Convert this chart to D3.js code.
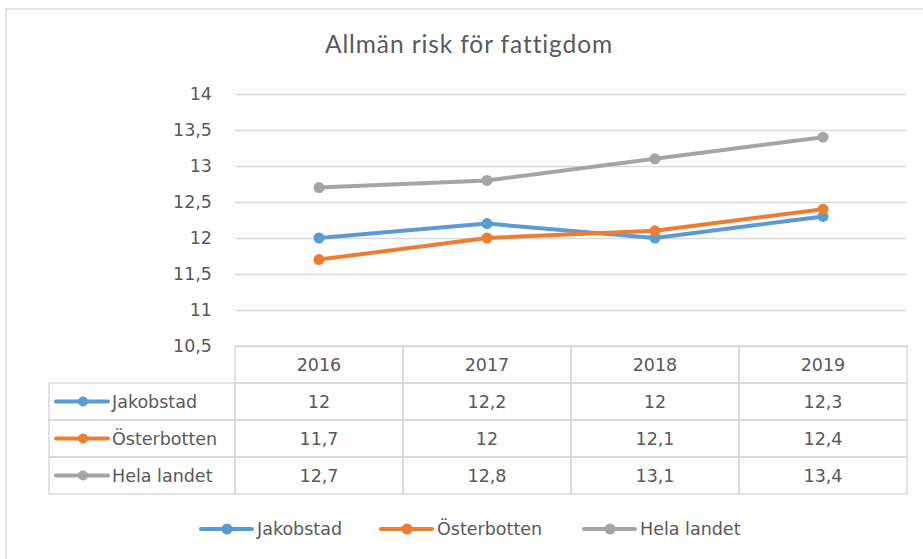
<!DOCTYPE html>
<html>
<head>
<meta charset="utf-8">
<script src="https://cdn.jsdelivr.net/npm/d3@7"></script>
<style>
  html, body { margin: 0; padding: 0; background: #fff; }
  svg { display: block; }
</style>
</head>
<body>
<svg id="chart"></svg>
<script>
const years = ['2016', '2017', '2018', '2019'];
const seriesNames = ['Jakobstad', 'Österbotten', 'Hela landet'];
const jakobstad = [12, 12.2, 12, 12.3];
const osterbotten = [11.7, 12, 12.1, 12.4];
const helaLandet = [12.7, 12.8, 13.1, 13.4];
const yTicks = [10.5, 11, 11.5, 12, 12.5, 13, 13.5, 14];
const title = 'Allmän risk för fattigdom';

const colors = ['#5B9BD5', '#ED7D31', '#A5A5A5'];
const series = [jakobstad, osterbotten, helaLandet].map((values, i) => ({
    name: seriesNames[i],
    color: colors[i],
    values: values
}));

const W = 923, H = 559;
const textColor = '#595959';
const gridColor = '#d9d9d9';
const fmt = v => String(v).replace('.', ',');

const PLOT = { left: 235, right: 907, top: 94, bottom: 346 };
const ROW_H = 37;
const HEADER_LEFT = 49;
const bodyFont = '"DejaVu Sans", sans-serif';
const bodySize = '17.5px';

const svg = d3.select('#chart').attr('width', W).attr('height', H);

// chart frame
svg.append('rect')
    .attr('x', 6).attr('y', 9)
    .attr('width', W).attr('height', H)
    .attr('fill', '#fff')
    .attr('stroke', '#d9d9d9')
    .attr('stroke-width', 1.5);

const x = d3.scaleBand().domain(years).range([PLOT.left, PLOT.right]);
const y = d3.scaleLinear().domain([10.5, 14]).range([PLOT.bottom, PLOT.top]);

svg.append('text')
    .attr('x', 469).attr('y', 53)
    .attr('text-anchor', 'middle')
    .style('font-family', 'Lato, sans-serif')
    .style('font-size', '24.5px')
    .style('letter-spacing', '0.9px')
    .style('fill', textColor)
    .text(title);

// gridlines + y labels
svg.append('g')
    .attr('transform', `translate(${PLOT.left},0)`)
    .call(d3.axisLeft(y).tickValues(yTicks).tickSize(-(PLOT.right - PLOT.left)).tickPadding(23).tickFormat(fmt))
    .call(g => g.select('.domain').remove())
    .call(g => g.selectAll('.tick line').attr('stroke', gridColor).attr('stroke-width', 1.3))
    .call(g => g.selectAll('.tick text')
        .style('font-family', bodyFont)
        .style('font-size', bodySize)
        .style('fill', textColor));

// lines
const line = d3.line()
    .x((d, i) => x(years[i]) + x.bandwidth() / 2)
    .y(d => y(d));

const sg = svg.append('g').selectAll('g.series')
    .data(series)
    .join('g')
    .attr('class', 'series');

sg.append('path')
    .attr('d', d => line(d.values))
    .attr('fill', 'none')
    .attr('stroke', d => d.color)
    .attr('stroke-width', 4)
    .attr('stroke-linejoin', 'round')
    .attr('stroke-linecap', 'round');

sg.selectAll('circle')
    .data(d => d.values.map((v, i) => ({ v, i, color: d.color })))
    .join('circle')
    .attr('cx', d => x(years[d.i]) + x.bandwidth() / 2)
    .attr('cy', d => y(d.v))
    .attr('r', 5.5)
    .attr('fill', d => d.color);

// data table
const table = svg.append('g');
const tableTop = PLOT.bottom;
const tableStroke = '#d9d9d9';

function cellText(tx, ty, txt, anchor) {
    table.append('text')
        .attr('x', tx).attr('y', ty)
        .attr('dy', '0.36em')
        .attr('text-anchor', anchor)
        .style('font-family', bodyFont).style('font-size', bodySize).style('fill', textColor)
        .text(txt);
}

function cellRect(rx, ry, rw) {
    table.append('rect')
        .attr('x', rx).attr('y', ry)
        .attr('width', rw).attr('height', ROW_H)
        .attr('fill', 'none').attr('stroke', tableStroke).attr('stroke-width', 1.5);
}

// header row cells
years.forEach(yr => {
    cellRect(x(yr), tableTop, x.bandwidth());
    cellText(x(yr) + x.bandwidth() / 2, tableTop + ROW_H / 2, yr, 'middle');
});

series.forEach((s, r) => {
    const rowY = tableTop + ROW_H * (r + 1);
    cellRect(HEADER_LEFT, rowY, PLOT.left - HEADER_LEFT);
    // legend key in row header
    table.append('line')
        .attr('x1', HEADER_LEFT + 7).attr('x2', HEADER_LEFT + 59)
        .attr('y1', rowY + ROW_H / 2).attr('y2', rowY + ROW_H / 2)
        .attr('stroke', s.color).attr('stroke-width', 4).attr('stroke-linecap', 'round');
    table.append('circle')
        .attr('cx', HEADER_LEFT + 34).attr('cy', rowY + ROW_H / 2)
        .attr('r', 5).attr('fill', s.color);
    cellText(HEADER_LEFT + 63, rowY + ROW_H / 2, s.name, 'start');

    s.values.forEach((v, i) => {
        cellRect(x(years[i]), rowY, x.bandwidth());
        cellText(x(years[i]) + x.bandwidth() / 2, rowY + ROW_H / 2, fmt(v), 'middle');
    });
});

// legend
const legendX = [200, 380, 583];
const legendY = 529;
const legend = svg.append('g').selectAll('g.legend')
    .data(series)
    .join('g')
    .attr('class', 'legend')
    .attr('transform', (d, i) => `translate(${legendX[i]},${legendY})`);

legend.append('line')
    .attr('x1', 1).attr('x2', 52)
    .attr('stroke', d => d.color).attr('stroke-width', 4).attr('stroke-linecap', 'round');
legend.append('circle')
    .attr('cx', 27).attr('r', 5.5).attr('fill', d => d.color);
legend.append('text')
    .attr('x', 57).attr('dy', '0.36em')
    .style('font-family', bodyFont).style('font-size', bodySize).style('fill', textColor)
    .text(d => d.name);
</script>
</body>
</html>
